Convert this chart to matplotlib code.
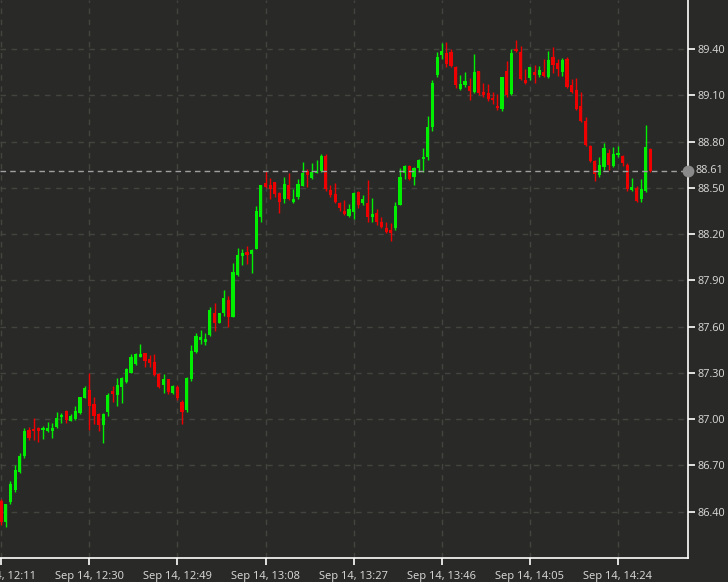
import numpy as np
import matplotlib
matplotlib.use("Agg")
import matplotlib.pyplot as plt

# 1-minute candles starting Sep 14, 12:11
opens = [86.47, 86.33, 86.46, 86.54, 86.66, 86.76, 86.93, 86.93, 86.94, 86.93,
         86.92, 86.925, 86.95, 87.012, 87.052, 86.99, 86.999, 87.037, 87.139, 87.19,
         87.098, 87.033, 86.962, 87.048, 87.182, 87.156, 87.21, 87.239, 87.301, 87.355,
         87.405, 87.426, 87.388, 87.372, 87.29, 87.221, 87.258, 87.171, 87.21, 87.113,
         87.059, 87.258, 87.437, 87.513, 87.50, 87.546, 87.69, 87.622, 87.686, 87.772,
         87.664, 87.934, 88.058, 88.085, 88.071, 88.101, 88.313, 88.529, 88.518, 88.54,
         88.468, 88.425, 88.518, 88.41, 88.438, 88.512, 88.611, 88.562, 88.594, 88.611,
         88.706, 88.486, 88.458, 88.403, 88.352, 88.317, 88.345, 88.471, 88.40, 88.399,
         88.309, 88.339, 88.28, 88.237, 88.225, 88.237, 88.388, 88.598, 88.641, 88.572,
         88.626, 88.685, 88.698, 88.896, 89.229, 89.36, 89.372, 89.383, 89.281, 89.139,
         89.167, 89.16, 89.123, 89.259, 89.123, 89.113, 89.08, 89.03, 89.009, 89.259,
         89.106, 89.40, 89.383, 89.20, 89.21, 89.253, 89.231, 89.253, 89.216, 89.35,
         89.307, 89.253, 89.333, 89.167, 89.134, 89.03, 88.935, 88.771, 88.676, 88.583,
         88.633, 88.728, 88.641, 88.71, 88.706, 88.648, 88.486, 88.497, 88.425, 88.481,
         88.75]
highs = [86.48, 86.45, 86.60, 86.70, 86.78, 86.94, 86.95, 87.005, 86.95, 86.955,
         86.983, 86.973, 87.048, 87.037, 87.06, 87.033, 87.085, 87.145, 87.214, 87.297,
         87.145, 87.04, 87.04, 87.17, 87.214, 87.265, 87.275, 87.33, 87.42, 87.43,
         87.487, 87.43, 87.415, 87.42, 87.30, 87.29, 87.26, 87.22, 87.22, 87.124,
         87.275, 87.48, 87.56, 87.578, 87.557, 87.73, 87.75, 87.69, 87.84, 87.798,
         88.014, 88.107, 88.10, 88.122, 88.10, 88.38, 88.52, 88.61, 88.561, 88.54,
         88.47, 88.572, 88.594, 88.49, 88.555, 88.67, 88.62, 88.663, 88.68, 88.72,
         88.72, 88.52, 88.529, 88.41, 88.42, 88.395, 88.47, 88.48, 88.453, 88.55,
         88.432, 88.36, 88.31, 88.28, 88.27, 88.41, 88.626, 88.648, 88.648, 88.636,
         88.69, 88.756, 88.963, 89.20, 89.38, 89.437, 89.447, 89.40, 89.29, 89.23,
         89.25, 89.21, 89.368, 89.26, 89.178, 89.17, 89.123, 89.108, 89.22, 89.32,
         89.40, 89.458, 89.42, 89.268, 89.285, 89.296, 89.29, 89.333, 89.39, 89.415,
         89.335, 89.34, 89.35, 89.204, 89.21, 89.123, 88.96, 88.78, 88.68, 88.70,
         88.79, 88.75, 88.767, 88.77, 88.71, 88.66, 88.561, 88.51, 88.555, 88.907,
         88.76]
lows = [86.31, 86.30, 86.45, 86.53, 86.65, 86.75, 86.865, 86.865, 86.853, 86.87,
        86.915, 86.875, 86.945, 86.973, 86.973, 86.99, 86.995, 87.035, 87.135, 86.929,
        86.968, 86.92, 86.843, 87.02, 87.113, 87.085, 87.107, 87.235, 87.30, 87.35,
        87.40, 87.34, 87.336, 87.28, 87.20, 87.167, 87.165, 87.165, 87.124, 86.97,
        87.048, 87.25, 87.43, 87.487, 87.48, 87.54, 87.573, 87.62, 87.668, 87.595,
        87.66, 87.93, 87.999, 88.006, 87.95, 88.10, 88.28, 88.497, 88.43, 88.44,
        88.335, 88.40, 88.42, 88.40, 88.43, 88.51, 88.507, 88.555, 88.594, 88.60,
        88.48, 88.442, 88.40, 88.35, 88.324, 88.313, 88.296, 88.37, 88.39, 88.28,
        88.28, 88.26, 88.237, 88.205, 88.157, 88.226, 88.388, 88.555, 88.55, 88.518,
        88.60, 88.605, 88.68, 88.87, 89.22, 89.333, 89.285, 89.285, 89.145, 89.134,
        89.155, 89.07, 89.113, 89.10, 89.09, 89.06, 89.043, 89.004, 89.0, 89.09,
        89.10, 89.383, 89.20, 89.173, 89.20, 89.178, 89.216, 89.22, 89.21, 89.242,
        89.225, 89.225, 89.145, 89.113, 89.004, 88.928, 88.77, 88.665, 88.546, 88.572,
        88.615, 88.615, 88.633, 88.698, 88.64, 88.48, 88.48, 88.41, 88.41, 88.475,
        88.60]
closes = [86.33, 86.45, 86.58, 86.67, 86.76, 86.92, 86.875, 86.925, 86.92, 86.935,
          86.945, 86.945, 87.01, 87.025, 86.994, 87.02, 87.052, 87.141, 87.204, 87.085,
          87.02, 86.962, 87.033, 87.156, 87.162, 87.221, 87.269, 87.323, 87.401, 87.42,
          87.42, 87.379, 87.362, 87.286, 87.206, 87.26, 87.178, 87.215, 87.135, 87.048,
          87.264, 87.443, 87.539, 87.53, 87.52, 87.707, 87.625, 87.686, 87.783, 87.664,
          87.956, 88.064, 88.075, 88.064, 88.097, 88.351, 88.518, 88.507, 88.49, 88.46,
          88.41, 88.524, 88.425, 88.425, 88.524, 88.598, 88.583, 88.605, 88.611, 88.706,
          88.49, 88.453, 88.41, 88.367, 88.33, 88.36, 88.464, 88.388, 88.425, 88.309,
          88.33, 88.28, 88.248, 88.215, 88.21, 88.382, 88.572, 88.641, 88.557, 88.626,
          88.68, 88.70, 88.896, 89.181, 89.346, 89.389, 89.303, 89.29, 89.167, 89.173,
          89.195, 89.13, 89.253, 89.113, 89.10, 89.074, 89.07, 89.015, 89.22, 89.10,
          89.372, 89.39, 89.203, 89.178, 89.281, 89.231, 89.264, 89.225, 89.329, 89.296,
          89.268, 89.329, 89.152, 89.123, 89.01, 88.935, 88.777, 88.676, 88.59, 88.648,
          88.756, 88.648, 88.72, 88.724, 88.659, 88.49, 88.503, 88.416, 88.49, 88.763,
          88.61]

tick_labels = ["Sep 14, 12:11", "Sep 14, 12:30", "Sep 14, 12:49", "Sep 14, 13:08",
               "Sep 14, 13:27", "Sep 14, 13:46", "Sep 14, 14:05", "Sep 14, 14:24"]
tick_minutes = [0, 19, 38, 57, 76, 95, 114, 133]
y_ticks = [86.40, 86.70, 87.00, 87.30, 87.60, 87.90, 88.20, 88.50, 88.80, 89.10, 89.40]
last_price = 88.61

BG = "#292a27"
GRID = "#434440"
UP = "#00ee00"
DOWN = "#ee0000"
TXT = "#dcdcdc"

plt.rcParams['font.family'] = ['Open Sans', 'DejaVu Sans']

fig = plt.figure(figsize=(7.28, 5.82), dpi=100, facecolor=BG)
ax = fig.add_axes([0, 24/582, 688/728, 558/582])
ax.set_facecolor(BG)

o = np.array(opens); h = np.array(highs); l = np.array(lows); c = np.array(closes)
x = np.arange(len(o))
cols = np.where(c >= o, UP, DOWN)

ax.vlines(x, l, h, colors=cols, linewidth=1, zorder=3)
bottom = np.minimum(o, c)
height = np.maximum(np.abs(c - o), 0.012)
ax.bar(x, height, bottom=bottom, width=0.68, color=cols, linewidth=0, zorder=4)

ax.set_xlim(-0.26, 148.1)
ax.set_ylim(86.099, 89.718)

ax.set_xticks(tick_minutes)
ax.set_xticklabels(tick_labels)
ax.set_yticks(y_ticks)
ax.set_yticklabels([f"{v:.2f}" for v in y_ticks])
ax.yaxis.tick_right()

ax.grid(True, color=GRID, linestyle=(0, (4, 4)), linewidth=1, zorder=0)

for s in ["top", "left"]:
    ax.spines[s].set_visible(False)
for s in ["bottom", "right"]:
    ax.spines[s].set_color("white")
    ax.spines[s].set_linewidth(1.2)

ax.tick_params(axis="both", colors="white", labelcolor=TXT, labelsize=8,
               length=5, width=1.2, direction="out")
ax.tick_params(axis="x", pad=4)
ax.tick_params(axis="y", pad=2, labelsize=7.8)

# current price line and marker
ax.axhline(last_price, color="#a0a0a0", linestyle=(0, (4, 3)), linewidth=1, zorder=5)
ax.plot([1], [last_price], marker="o", markersize=7.5, color="#8a8a8a",
        transform=ax.get_yaxis_transform(), clip_on=False, zorder=6)
ax.text(1.0 + 8/688, last_price, f"{last_price:.2f}", transform=ax.get_yaxis_transform(),
        color=TXT, fontsize=7.8, va="center", ha="left")

fig.savefig("out.png", dpi=100, facecolor=BG)
